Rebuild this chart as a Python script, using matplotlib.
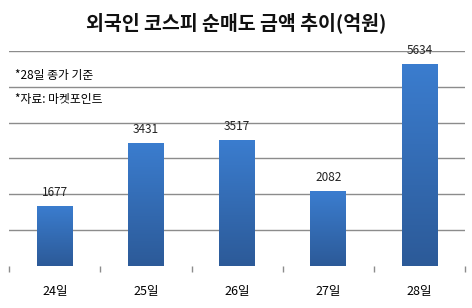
import matplotlib.pyplot as plt
import numpy as np
from matplotlib.colors import LinearSegmentedColormap

plt.rcParams['font.family'] = ['Noto Sans CJK KR', 'DejaVu Sans']

days = ["24일", "25일", "26일", "27일", "28일"]
net_buy = [1677, 3431, 3517, 2082, 5634]
notes = ["*28일 종가 기준", "*자료: 마켓포인트"]
title = "외국인 코스피 순매도 금액 추이(억원)"

fig = plt.figure(figsize=(4.72, 3.08), dpi=100)
ax = fig.add_axes([0.0197, 0.1364, 0.9653, 0.6986])

x = np.arange(len(days))
bars = ax.bar(x, net_buy, width=0.39, color="#3571b8", zorder=3)

# 위에서 아래로 밝은 파랑 -> 진한 파랑
cmap = LinearSegmentedColormap.from_list("bluegrad", ["#2c5a98", "#3b7dcf"])
grad = np.linspace(0, 1, 256).reshape(-1, 1)
for b in bars:
    x0, y0 = b.get_x(), b.get_y()
    w, h = b.get_width(), b.get_height()
    img = ax.imshow(grad, cmap=cmap, origin="lower", aspect="auto",
                    extent=[x0, x0 + w, y0, y0 + h], zorder=4)
    img.set_clip_path(b)
    ax.annotate(f"{int(h)}", (x0 + w / 2, h), xytext=(0, 5),
                textcoords="offset points", ha="center", va="bottom",
                fontsize=8.5, color="#222222", zorder=5)

ax.set_xlim(-0.5, len(days) - 0.5)
ax.set_ylim(0, 6000)
ax.set_yticks(np.arange(1000, 6001, 1000))
ax.yaxis.grid(True, color="#8c8c8c", linewidth=1.0, zorder=0)
ax.tick_params(axis="y", left=False, labelleft=False)

ax.set_xticks(x)
ax.set_xticklabels(days, fontsize=9)
ax.tick_params(axis="x", which="major", length=0, pad=14)
ax.set_xticks(np.arange(-0.5, len(days)), minor=True)
ax.tick_params(axis="x", which="minor", length=4, color="#8c8c8c", width=1)

for s in ax.spines.values():
    s.set_visible(False)

fig.text(0.5, 0.925, title, ha="center", va="center", fontsize=14,
         fontweight="bold", color="#111111")
fig.text(0.032, 0.755, notes[0], ha="left", va="center", fontsize=8.5)
fig.text(0.032, 0.678, notes[1], ha="left", va="center", fontsize=8.5)

fig.savefig("out.png", dpi=100)
